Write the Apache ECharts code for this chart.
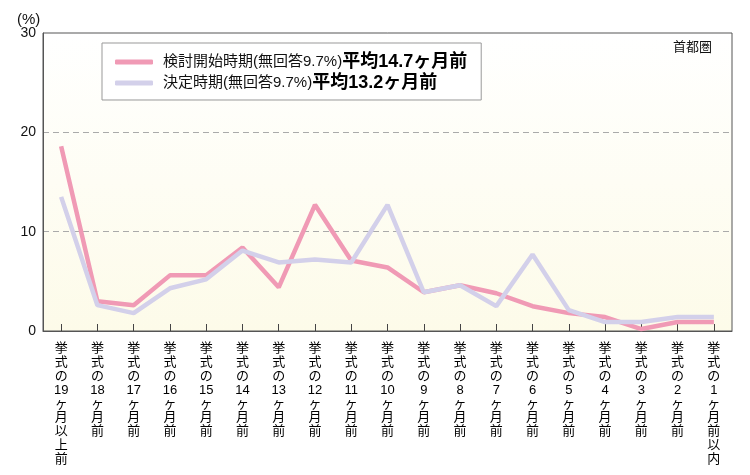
<!DOCTYPE html>
<html><head><meta charset="utf-8">
<script src="https://cdn.jsdelivr.net/npm/echarts@6/dist/echarts.min.js"></script>
<style>html,body{margin:0;padding:0;background:#fff}#c{width:750px;height:475px}</style>
</head><body><div id="c"></div>
<script>
var categories = ['挙式の19ヶ月以上前','挙式の18ヶ月前','挙式の17ヶ月前','挙式の16ヶ月前','挙式の15ヶ月前','挙式の14ヶ月前','挙式の13ヶ月前','挙式の12ヶ月前','挙式の11ヶ月前','挙式の10ヶ月前','挙式の9ヶ月前','挙式の8ヶ月前','挙式の7ヶ月前','挙式の6ヶ月前','挙式の5ヶ月前','挙式の4ヶ月前','挙式の3ヶ月前','挙式の2ヶ月前','挙式の1ヶ月前以内'];
var startValues = [18.6, 3.0, 2.6, 5.6, 5.6, 8.4, 4.4, 12.7, 7.1, 6.4, 3.9, 4.6, 3.8, 2.5, 1.8, 1.4, 0.2, 0.9, 0.9];
var decideValues = [13.5, 2.6, 1.8, 4.3, 5.2, 8.1, 6.9, 7.2, 6.9, 12.7, 3.9, 4.6, 2.5, 7.7, 2.1, 0.9, 0.9, 1.4, 1.4];
var seriesNames = ['検討開始時期', '決定時期'];
var legendNotes = ['(無回答9.7%)', '(無回答9.7%)'];
var legendAverages = ['平均14.7ヶ月前', '平均13.2ヶ月前'];
var yTicks = [0, 10, 20, 30];

var FONT = '"Liberation Sans", "Noto Sans CJK JP", sans-serif';
function vertical(s) {
  var tokens = s.match(/[0-9]+|./g);
  return tokens.join('\n');
}
var chart = echarts.init(document.getElementById('c'));
chart.setOption({
  animation: false,
  textStyle: { fontFamily: FONT },
  grid: {
    left: 43, right: 18, top: 33, bottom: 144,
    show: true, borderColor: '#555', borderWidth: 1,
    backgroundColor: new echarts.graphic.LinearGradient(0, 0, 0, 1, [
      { offset: 0, color: '#ffffff' }, { offset: 1, color: '#fdfbe9' }
    ])
  },
  legend: {
    orient: 'vertical', left: 102, top: 43,
    padding: [10, 14, 8, 13],
    itemGap: 3,
    borderColor: '#999', borderWidth: 1, backgroundColor: '#fff',
    itemWidth: 38, itemHeight: 5, icon: 'roundRect',
    data: seriesNames,
    formatter: function (name) {
      var i = seriesNames.indexOf(name);
      return '{a|' + name + legendNotes[i] + '}{b|' + legendAverages[i] + '}';
    },
    textStyle: {
      fontFamily: FONT,
      rich: {
        a: { fontSize: 15, lineHeight: 18, color: '#111', fontFamily: FONT, padding: [0, 0, 0, 5] },
        b: { fontSize: 18, lineHeight: 18, fontWeight: 'bold', color: '#000', fontFamily: FONT }
      }
    }
  },
  graphic: [
    { type: 'text', left: 17, top: 12, style: { text: '(%)', fontSize: 15, fill: '#111', fontFamily: FONT } },
    { type: 'text', left: 673, top: 41, style: { text: '首都圏', fontSize: 13, fill: '#111', fontFamily: FONT } }
  ],
  xAxis: {
    type: 'category', data: categories, boundaryGap: true,
    axisLine: { lineStyle: { color: '#555', width: 1 } },
    axisTick: { show: true, inside: true, alignWithLabel: true, length: 7, lineStyle: { color: '#444' } },
    axisLabel: {
      interval: 0, margin: 11, fontSize: 13, lineHeight: 13.8, color: '#000',
      verticalAlign: 'top', fontFamily: FONT,
      formatter: function (v) { return vertical(v); }
    },
    splitLine: { show: false }
  },
  yAxis: {
    type: 'value', min: 0, max: 30, interval: 10,
    axisLine: { show: true, lineStyle: { color: '#555', width: 1 } },
    axisTick: { show: false },
    axisLabel: { fontSize: 14, color: '#111', margin: 7, fontFamily: FONT, padding: [2, 0, 0, 0] },
    splitLine: { show: true, lineStyle: { color: '#aaa', type: [6, 4], width: 1 } }
  },
  series: [
    { name: seriesNames[0], type: 'line', data: startValues, symbol: 'none', smooth: false,
      lineStyle: { color: '#f09ab5', width: 4.5 }, itemStyle: { color: '#f09ab5' }, z: 2 },
    { name: seriesNames[1], type: 'line', data: decideValues, symbol: 'none', smooth: false,
      lineStyle: { color: '#d3d0ea', width: 4.5 }, itemStyle: { color: '#d3d0ea' }, z: 3 }
  ]
});
</script></body></html>
